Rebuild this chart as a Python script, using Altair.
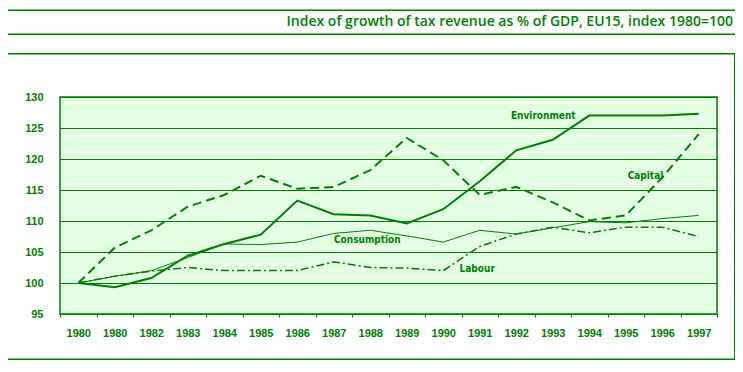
import altair as alt
import pandas as pd

# ---- data ----
years = ["1980", "1980", "1982", "1983", "1984", "1985", "1986", "1987", "1988",
         "1989", "1990", "1991", "1992", "1993", "1994", "1995", "1996", "1997"]
environment = [100, 99.3, 100.8, 104.4, 106.3, 107.8, 113.3, 111.1, 110.9,
               109.6, 111.9, 116.4, 121.4, 123.1, 127.0, 127.0, 127.0, 127.3]
capital = [100, 105.7, 108.5, 112.3, 114.2, 117.3, 115.2, 115.5, 118.2,
           123.4, 119.8, 114.2, 115.5, 113.0, 110.1, 110.9, 117.0, 124.0]
consumption = [100, 101.1, 102.0, 104.1, 106.3, 106.2, 106.6, 108.0, 108.5,
               107.6, 106.6, 108.5, 107.9, 108.9, 109.9, 109.7, 110.4, 110.9]
labour = [100, 101.1, 101.9, 102.5, 102.0, 102.0, 102.0, 103.4, 102.5,
          102.4, 102.0, 105.9, 107.9, 109.0, 108.1, 109.0, 109.0, 107.5]

series_names = ["Environment", "Capital", "Consumption", "Labour"]
label_x = [12.74, 15.54, 7.92, 10.93]
label_y = [126.9, 117.3, 106.9, 102.3]

y_ticks = [95, 100, 105, 110, 115, 120, 125, 130]
title_text = "Index of growth of tax revenue as % of GDP, EU15, index 1980=100"

GREEN = "#008000"
BG = "#E5FFE5"
W, H = 657, 217
n = len(years)
LABEL_FONT = "'DejaVu Sans Condensed', 'Liberation Sans', sans-serif"

def frame(vals):
    return pd.DataFrame({"i": list(range(n)), "v": vals, "year": years})

labels_js = "[" + ",".join("'%s'" % y for y in years) + "]"
x_vals = [k - 0.5 for k in range(n + 1)]
x_enc = alt.X(
    "i:Q",
    scale=alt.Scale(domain=[-0.5, n - 0.5], nice=False, zero=False),
    axis=alt.Axis(
        values=x_vals, tickCount=len(x_vals) + 5,
        labelExpr="datum.value < %d ? %s[floor(datum.value + 0.5)] : ''" % (n - 1, labels_js),
        labelOffset=W / n / 2,
        tickSize=3, tickColor=GREEN, tickWidth=1.2,
        domain=False, grid=False, title=None,
        labelFont="Liberation Sans", labelFontSize=11, labelFontWeight="bold",
        labelColor=GREEN, labelPadding=10, labelOverlap=False, labelBound=False,
        labelFlush=False,
    ),
)
y_enc = alt.Y(
    "v:Q",
    scale=alt.Scale(domain=[95, 130], nice=False, zero=False),
    axis=alt.Axis(
        values=y_ticks, tickCount=len(y_ticks) + 5,
        grid=True, gridColor=GREEN, gridWidth=1, gridOpacity=1,
        ticks=False, domain=False, title=None, labelOverlap=False,
        labelFont="Liberation Sans", labelFontSize=11, labelFontWeight="bold",
        labelColor=GREEN, labelPadding=17,
    ),
)

env = alt.Chart(frame(environment)).mark_line(color=GREEN, strokeWidth=2).encode(x=x_enc, y=y_enc)
cap = alt.Chart(frame(capital)).mark_line(color=GREEN, strokeWidth=2, strokeDash=[9, 5]).encode(x="i:Q", y="v:Q")
con = alt.Chart(frame(consumption)).mark_line(color=GREEN, strokeWidth=1).encode(x="i:Q", y="v:Q")
lab = alt.Chart(frame(labour)).mark_line(color=GREEN, strokeWidth=1.5, strokeDash=[8, 3, 2, 3]).encode(x="i:Q", y="v:Q")

labels_df = pd.DataFrame({"name": series_names, "lx": label_x, "ly": label_y})
lbl = alt.Chart(labels_df).mark_text(
    color=GREEN, font=LABEL_FONT, fontSize=10, fontWeight="bold",
    align="center", baseline="middle",
).encode(x="lx:Q", y="ly:Q", text="name:N")

one = pd.DataFrame({"a": [0]})
line1 = alt.Chart(one).mark_rule(color=GREEN, strokeWidth=1.5).encode(
    x=alt.value(-54), x2=alt.value(676), y=alt.value(-86.7))
line2 = alt.Chart(one).mark_rule(color=GREEN, strokeWidth=1.5).encode(
    x=alt.value(-54), x2=alt.value(676), y=alt.value(-62.7))
box = alt.Chart(one).mark_rect(fill="transparent", stroke=GREEN, strokeWidth=1.5).encode(
    x=alt.value(-53.7), x2=alt.value(674.8), y=alt.value(-43.3), y2=alt.value(262.3))
title = alt.Chart(one).mark_text(
    color=GREEN, font="Open Sans", fontSize=14, fontWeight=600,
    align="right", baseline="middle",
).encode(x=alt.value(673), y=alt.value(-74.8), text=alt.value(title_text))

chart = alt.layer(env, cap, con, lab, lbl, line1, line2, box, title).properties(
    width=W, height=H,
    autosize=alt.AutoSizeParams(type="none"),
    padding={"left": 52, "top": 89, "right": 18, "bottom": 50},
).configure_view(stroke=GREEN, strokeWidth=1.5, fill=BG)

chart.save("out.html", embed_options={"renderer": "svg", "actions": False})
